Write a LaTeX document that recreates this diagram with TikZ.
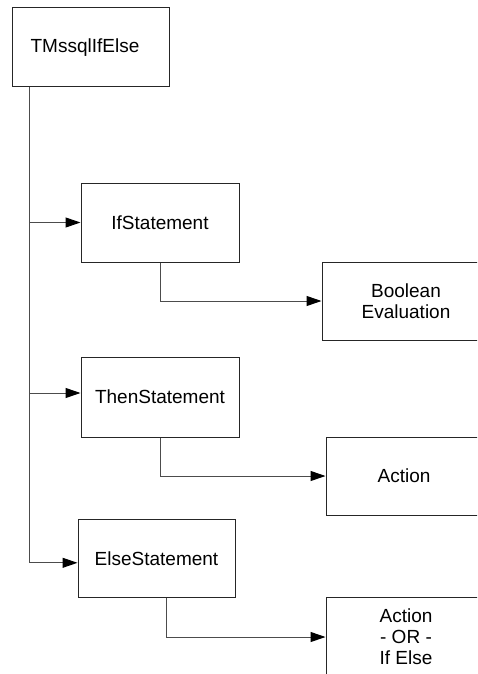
\documentclass[tikz,border=0pt]{standalone}
\usepackage{fontspec}
\setmainfont{Liberation Sans}
\usetikzlibrary{arrows.meta}
\begin{document}
\begin{tikzpicture}[x=1pt,y=-1pt,
  box/.style={draw=black!85, line width=1pt, rectangle, inner sep=0pt,
    align=center, font=\fontsize{19}{21}\selectfont},
  conn/.style={draw=black!70, line width=1pt,
    -{Triangle[length=15pt,width=10pt,fill=black,color=black]}}]
\useasboundingbox (0,0) rectangle (477,674);
\clip (0,0) rectangle (477,674);

% class boxes
\node[box, minimum width=157pt, minimum height=79pt] (root) at (90.5,47.5)
  {\raisebox{2.5pt}{TMssqlIfElse}\hspace{11pt}};
\node[box, minimum width=158pt, minimum height=79pt] (if)   at (160,222.5) {IfStatement};
\node[box, minimum width=158pt, minimum height=80pt] (then) at (160,397) {ThenStatement};
\node[box, minimum width=157pt, minimum height=78pt] (else) at (156.5,558.3) {ElseStatement};

% result boxes, running off the right edge
\node[box, minimum width=168pt, minimum height=78pt] (bool)   at (406,301) {Boolean\\Evaluation};
\node[box, minimum width=156pt, minimum height=78pt] (action) at (404,476) {Action};
\node[box, minimum width=160pt, minimum height=80pt] (alt)    at (406,637) {Action\\- OR -\\If Else};

% trunk with branches to the statements
\coordinate (trunk) at ([xshift=18pt]root.south west);
\draw[conn] (trunk) |- (if.west);
\draw[conn] (trunk) |- ([yshift=4pt]then.west);
\draw[conn] (trunk) |- ([yshift=-4.5pt]else.west);

% statement to result
\draw[conn] (if.south) |- (bool.west);
\draw[conn] (then.south) |- (action.west);
\draw[conn] ([xshift=9.5pt]else.south) |- (alt.west);
\end{tikzpicture}
\end{document}
